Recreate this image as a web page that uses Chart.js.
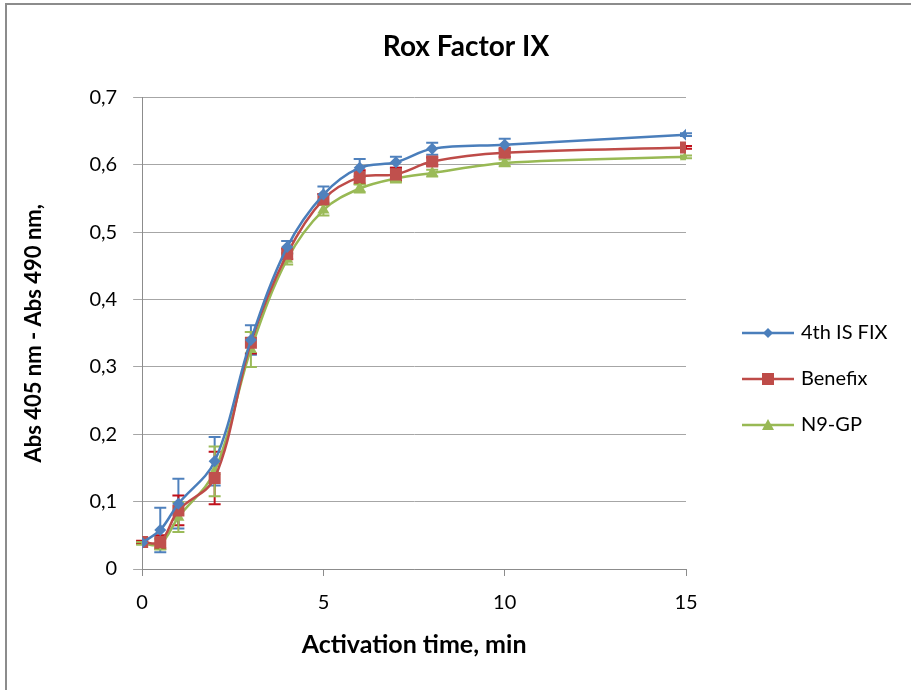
<!DOCTYPE html>
<html lang="en">
<head>
<meta charset="UTF-8">
<title>Rox Factor IX</title>
<style>
  body { margin: 0; background: #fff; }
  #chart-container { position: relative; width: 911px; height: 690px; overflow: hidden; }
  #frame { position: absolute; left: 5px; top: 3px; width: 930px; height: 720px; border: 2px solid #8c8c8c; box-sizing: border-box; pointer-events: none; }
</style>
</head>
<body>
<div id="chart-container">
  <canvas id="rox-chart" width="911" height="690"></canvas>
  <div id="frame"></div>
</div>
<script src="https://cdn.jsdelivr.net/npm/chart.js"></script>
<script>
// activation time, min
const times = [0, 0.5, 1, 2, 3, 4, 5, 6, 7, 8, 10, 15];

// Abs 405 - Abs 490
const isFix   = [0.039, 0.058, 0.097, 0.160, 0.340, 0.478, 0.556, 0.596, 0.604, 0.624, 0.630, 0.645];
const benefix = [0.040, 0.040, 0.087, 0.135, 0.336, 0.468, 0.549, 0.582, 0.586, 0.605, 0.618, 0.626];
const n9gp    = [0.038, 0.037, 0.077, 0.145, 0.326, 0.460, 0.533, 0.565, 0.580, 0.588, 0.603, 0.612];

// error bar half-lengths
const isFixErr   = [0.002, 0.033, 0.037, 0.036, 0.022, 0.009, 0.012, 0.013, 0.008, 0.009, 0.009, 0.002];
const benefixErr = [0.002, 0.010, 0.022, 0.039, 0.016, 0.008, 0.008, 0.010, 0.010, 0.006, 0.006, 0.002];
const n9gpErr    = [0.002, 0.008, 0.022, 0.037, 0.026, 0.008, 0.008, 0.006, 0.006, 0.005, 0.005, 0.002];

const yTicks = ['0', '0,1', '0,2', '0,3', '0,4', '0,5', '0,6', '0,7'];

const FONT = 'Lato, "Open Sans", sans-serif';

function toPoints(vals) {
  return times.map((t, i) => ({ x: t, y: vals[i] }));
}

// line + marker icon for the legend
function legendIcon(color, style) {
  const c = document.createElement('canvas');
  c.width = 52; c.height = 16;
  const g = c.getContext('2d');
  g.strokeStyle = color; g.lineWidth = 2.5;
  g.beginPath(); g.moveTo(0, 8); g.lineTo(52, 8); g.stroke();
  g.fillStyle = color;
  g.beginPath();
  if (style === 'diamond') {
    g.moveTo(26, 3); g.lineTo(31, 8); g.lineTo(26, 13); g.lineTo(21, 8);
  } else if (style === 'square') {
    g.rect(20, 2, 12, 12);
  } else {
    g.moveTo(26, 2); g.lineTo(32, 13); g.lineTo(20, 13);
  }
  g.closePath(); g.fill();
  return c;
}

const errorBars = {
  id: 'errorBars',
  beforeDatasetsDraw(chart) {
    const { ctx, scales: { x, y } } = chart;
    chart.data.datasets.forEach((ds, i) => {
      if (!chart.isDatasetVisible(i)) return;
      ctx.save();
      ctx.strokeStyle = ds.errorColor;
      ctx.lineWidth = 2;
      ds.data.forEach((p, j) => {
        const e = ds.errors[j];
        const px = x.getPixelForValue(p.x);
        const top = y.getPixelForValue(p.y + e);
        const bot = y.getPixelForValue(p.y - e);
        ctx.beginPath();
        ctx.moveTo(px, top); ctx.lineTo(px, bot);
        ctx.moveTo(px - 6, top); ctx.lineTo(px + 6, top);
        ctx.moveTo(px - 6, bot); ctx.lineTo(px + 6, bot);
        ctx.stroke();
      });
      ctx.restore();
    });
  }
};

// legend takes the whole right strip, items drawn a bit right of the plot
const legendPlacement = {
  id: 'legendPlacement',
  beforeLayout(chart) {
    const L = chart.legend;
    if (L && !L._wide) {
      const fit = L.fit;
      L.fit = function () { fit.call(this); this.width = 225; };
      L._wide = true;
    }
  },
  afterLayout(chart) {
    const L = chart.legend;
    const w = L.right - L.left, h = L.bottom - L.top;
    L.left = chart.chartArea.right + 33; L.right = L.left + w;
    L.top = 297; L.bottom = L.top + h;
  }
};

const icons = [
  legendIcon('#4A7EBB', 'diamond'),
  legendIcon('#BE4B48', 'square'),
  legendIcon('#98B954', 'triangle')
];

const chart = new Chart(document.getElementById('rox-chart'), {
  type: 'line',
  data: {
    datasets: [
      {
        label: '4th IS FIX', data: toPoints(isFix), errors: isFixErr, errorColor: '#4F81BD',
        borderColor: '#4A7EBB', backgroundColor: '#4F81BD', borderWidth: 2.5,
        pointStyle: 'rectRot', pointRadius: 6, pointBorderWidth: 0, tension: 0.35
      },
      {
        label: 'Benefix', data: toPoints(benefix), errors: benefixErr, errorColor: '#C0101A',
        borderColor: '#BE4B48', backgroundColor: '#C0504D', borderWidth: 2.5,
        pointStyle: 'rect', pointRadius: 8.5, pointBorderWidth: 0, tension: 0.35
      },
      {
        label: 'N9-GP', data: toPoints(n9gp), errors: n9gpErr, errorColor: '#9BBB59',
        borderColor: '#98B954', backgroundColor: '#9BBB59', borderWidth: 2.5,
        pointStyle: 'triangle', pointRadius: 7, pointBorderWidth: 0, tension: 0.35
      }
    ]
  },
  options: {
    responsive: false,
    animation: false,
    layout: { padding: { left: 21, right: 0, top: 0, bottom: 26 } },
    plugins: {
      title: {
        display: true, text: 'Rox Factor IX', color: '#000',
        font: { family: FONT, size: 28, weight: 'bold' },
        padding: { top: 30, bottom: 34 }
      },
      legend: {
        position: 'right', align: 'start',
        labels: {
          color: '#000', font: { family: FONT, size: 20 },
          usePointStyle: true, pointStyleWidth: 46, padding: 26,
          generateLabels(c) {
            const items = Chart.defaults.plugins.legend.labels.generateLabels(c);
            items.forEach((it, i) => { it.pointStyle = icons[i]; });
            return items;
          }
        }
      },
      tooltip: { enabled: false }
    },
    scales: {
      x: {
        type: 'linear', min: 0, max: 15,
        grid: { drawOnChartArea: false, drawTicks: true, tickLength: 7, color: '#8c8c8c' },
        border: { color: '#8c8c8c', width: 1 },
        ticks: { stepSize: 5, color: '#000', padding: 15, font: { family: FONT, size: 20 } },
        title: {
          display: true, text: 'Activation time, min', color: '#000',
          font: { family: FONT, size: 25, weight: 'bold' }, padding: { top: 0, bottom: 4 }
        }
      },
      y: {
        min: 0, max: 0.7,
        grid: { color: '#a6a6a6', tickLength: 9 },
        border: { color: '#8c8c8c', width: 1 },
        ticks: {
          stepSize: 0.1, color: '#000', padding: 16, font: { family: FONT, size: 20 },
          callback: (v, i) => yTicks[i]
        },
        title: {
          display: true, text: 'Abs 405 nm - Abs 490 nm,', color: '#000',
          font: { family: FONT, size: 22, weight: 'bold' }, padding: { top: 0, bottom: 26 }
        }
      }
    }
  },
  plugins: [errorBars, legendPlacement]
});
</script>
</body>
</html>
